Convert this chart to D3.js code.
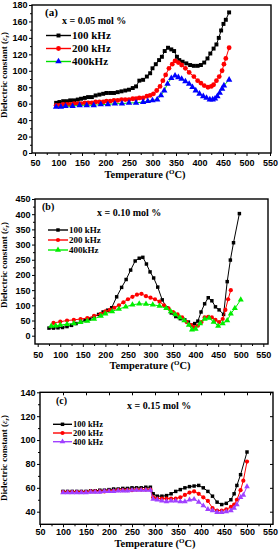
<!DOCTYPE html>
<html lang="en">
<head>
<meta charset="UTF-8">
<title>Dielectric constant vs temperature</title>
<script src="https://d3js.org/d3.v7.min.js"></script>
<style>
  body { margin: 0; background: #fff; }
  .tick text { font-family: "Liberation Sans", Arial, sans-serif; font-weight: bold; font-size: 9px; fill: #000; }
  .tick line { stroke: #000; stroke-width: 1px; }
  .lbl { font-family: "Liberation Serif", "Times New Roman", serif; font-weight: bold; fill: #000; }
  .frame { fill: none; stroke: #000; stroke-width: 1.4px; }
</style>
</head>
<body>
<svg id="chart" width="279" height="550"></svg>
<script>
// ---- data ----
const xTicks = [50, 100, 150, 200, 250, 300, 350, 400, 450, 500, 550];
const yTicksA = [0, 20, 40, 60, 80, 100, 120, 140, 160, 180];
const yTicksB = [0, 50, 100, 150, 200, 250, 300, 350, 400, 450];
const yTicksC = [40, 60, 80, 100, 120, 140];

// (a) x = 0.05 mol %
const tempA100 = [95,102,110,118,125,133,141,148,156,163,171,179,187,195,202,210,218,226,234,242,250,258,265,272,280,288,295,300,307,314,320,326,333,340,346,352,357,364,372,380,388,396,403,410,417,423,430,436,441,446,451,456,463];
const epsA100  = [61,62,63,63,64,64,65,66,67,68,68,70,71,72,73,73,73,74,75,76,77,79,81,88,89,93,97,103,108,113,117,124,128,126,124,117,113,111,109,107,106,106,107,110,115,121,127,132,140,149,157,162,171];
const tempA200 = [95,102,110,118,125,133,141,148,156,163,171,179,187,195,202,210,218,226,234,242,250,258,265,272,280,288,295,302,309,316,322,328,335,342,348,355,362,370,378,388,396,403,410,418,425,430,436,442,448,452,456,463];
const epsA200  = [58,58,59,59,59,60,60,60,61,61,61,62,62,62,63,63,64,64,65,65,65,66,66,67,67,69,70,72,76,81,88,95,103,108,112,110,107,103,98,93,88,85,82,80,81,83,88,93,100,108,115,128];
const tempA400 = [95,105,115,130,145,160,175,190,205,220,235,250,265,280,290,300,310,318,325,332,340,348,355,362,370,378,385,392,400,408,415,422,428,433,438,443,448,452,463];
const epsA400  = [56,56,57,57,58,58,58,59,59,60,60,61,61,62,63,64,65,70,76,84,91,94,92,90,87,84,80,76,72,69,67,65,65,66,69,73,78,82,89];

// (b) x = 0.10 mol %
const tempB100 = [75,85,95,105,115,125,135,145,155,165,175,185,195,205,214,225,236,246,256,266,275,283,291,299,307,316,326,336,346,356,366,376,384,391,398,405,412,420,428,436,444,452,462,470,477,484,497];
const epsB100  = [25,25,26,27,30,34,40,45,50,55,63,70,78,84,92,128,159,185,216,246,255,258,236,210,190,160,118,92,75,63,56,52,45,35,40,48,78,105,125,115,95,85,70,178,249,306,402];
const tempB200 = [85,100,115,130,145,160,175,190,200,210,220,230,240,250,260,270,280,290,300,310,320,330,340,350,360,370,380,390,397,405,413,420,428,436,444,452,460,466,472,478];
const epsB200  = [42,46,50,52,55,58,65,72,80,85,92,100,110,120,128,135,138,130,125,120,112,100,90,78,70,60,45,35,28,33,45,60,62,60,52,45,55,85,120,150];
const tempB400 = [80,90,100,115,130,145,160,175,190,200,215,230,245,260,275,290,305,320,335,345,355,365,375,385,392,400,410,420,430,440,450,460,470,478,487,500];
const epsB400  = [32,33,35,38,40,44,48,55,65,72,80,88,95,102,105,104,102,98,90,80,70,60,50,35,20,22,40,55,58,45,32,40,50,72,90,118];

// (c) x = 0.15 mol %
const tempC100 = [100,110,120,130,140,150,160,170,180,190,200,210,220,230,240,250,260,270,280,290,296,305,315,325,335,345,355,365,375,385,395,405,415,425,435,445,455,465,472,478,486,500];
const epsC100  = [57,57,57,57,57,57,57.5,57.5,58,58,58.5,59,59,59.5,59.5,60,60,60,60.5,60.5,55,53,53,53.5,55,57,58.5,60,61,61.5,62,60,57,53,48,46,47,50,55,62,71,90];
const tempC200 = [100,110,120,130,140,150,160,170,180,190,200,210,220,230,240,250,260,270,280,290,296,305,315,325,335,345,355,365,375,385,395,405,415,425,435,445,455,465,472,478,486,492,500];
const epsC200  = [56.5,56.5,56.5,56.5,56.5,56.5,57,57,57,57,57.5,57.5,58,58,58,58,58.5,58.5,58.5,58.5,52,51,51,51,51,51,52,54,56,57,55,52,49,43,41,41,42,44,46,50,58,66,82];
const tempC400 = tempC200;
const epsC400  = [56,56,56,56,56,56,56.5,56.5,56.5,57,57,57,57.5,57.5,57.5,58,58,58,58,58,50.5,50,49,48.5,49,49,48.5,48.5,50,50.5,48,45,42,41,39.5,39.5,40,41,43,46,52,54,61];

const svg = d3.select("#chart");

function zip(t, v) { return t.map((d, i) => [d, v[i]]); }

function drawPanel(p) {
  const g = svg.append("g");
  const x = d3.scaleLinear().domain([50, 550]).range(p.xRange);
  const y = d3.scaleLinear().domain(p.yDomain).range(p.yRange);
  const [bx0, by0, bx1, by1] = p.box;

  // axes (major outward, minor half-length)
  const minorX = xTicks.slice(0, -1).map(d => d + 25);
  g.append("g").attr("transform", `translate(0,${by1})`)
    .call(d3.axisBottom(x).tickValues(xTicks).tickSize(3).tickSizeOuter(0).tickPadding(p.xPad))
    .call(a => a.select(".domain").remove());
  g.append("g").attr("transform", `translate(0,${by1})`)
    .call(d3.axisBottom(x).tickValues(minorX).tickSize(2).tickFormat(""))
    .call(a => a.select(".domain").remove());

  const yStep = p.yTicks[1] - p.yTicks[0];
  const minorY = p.yTicks.slice(0, -1).map(d => d + yStep / 2);
  g.append("g").attr("transform", `translate(${bx0},0)`)
    .call(d3.axisLeft(y).tickValues(p.yTicks).tickSize(3).tickSizeOuter(0).tickPadding(1.5))
    .call(a => a.select(".domain").remove());
  g.append("g").attr("transform", `translate(${bx0},0)`)
    .call(d3.axisLeft(y).tickValues(minorY).tickSize(2).tickFormat(""))
    .call(a => a.select(".domain").remove());

  if (p.mirror) {
    g.append("g").attr("transform", `translate(0,${by0})`)
      .call(d3.axisBottom(x).tickValues(xTicks.slice(1)).tickSize(3).tickFormat(""))
      .call(a => a.select(".domain").remove());
    g.append("g").attr("transform", `translate(${bx1},0)`)
      .call(d3.axisLeft(y).tickValues(p.yTicks).tickSize(3).tickFormat(""))
      .call(a => a.select(".domain").remove());
  }

  g.append("rect").attr("class", "frame")
    .attr("x", bx0).attr("y", by0)
    .attr("width", bx1 - bx0).attr("height", by1 - by0);

  const line = d3.line().x(d => x(d[0])).y(d => y(d[1]));

  p.series.forEach(s => {
    const pts = zip(s.t, s.v);
    g.append("path").datum(pts)
      .attr("fill", "none").attr("stroke", s.line).attr("stroke-width", 1)
      .attr("d", line);
    g.selectAll(null).data(pts).join("path")
      .attr("transform", d => `translate(${x(d[0])},${y(d[1])})`)
      .attr("d", d3.symbol(s.shape, s.size * p.mk)())
      .attr("fill", s.fill);
  });

  // panel letter and composition
  g.append("text").attr("class", "lbl").attr("x", p.letter[0]).attr("y", p.letter[1])
    .attr("font-size", p.letter[2]).text(p.letterText);
  g.append("text").attr("class", "lbl").attr("x", p.comp[0]).attr("y", p.comp[1])
    .attr("font-size", 10).text(p.compText);

  // legend
  p.series.forEach((s, i) => {
    const ly = p.leg.y0 + i * p.leg.dy;
    g.append("line").attr("x1", p.leg.x0).attr("x2", p.leg.x1)
      .attr("y1", ly).attr("y2", ly)
      .attr("stroke", s.line).attr("stroke-width", 1.4);
    g.append("path")
      .attr("transform", `translate(${(p.leg.x0 + p.leg.x1) / 2},${ly})`)
      .attr("d", d3.symbol(s.shape, s.size * p.mk)())
      .attr("fill", s.fill);
    g.append("text").attr("class", "lbl")
      .attr("x", p.leg.x1 + 1).attr("y", ly)
      .attr("dy", "0.35em").attr("font-size", p.leg.fs)
      .text(s.name);
  });

  // axis titles
  const xt = g.append("text").attr("class", "lbl")
    .attr("x", p.xTitle[0]).attr("y", p.xTitle[1])
    .attr("text-anchor", "middle").attr("font-size", 10.5);
  xt.append("tspan").text("Temperature (");
  xt.append("tspan").attr("font-size", 7).attr("dy", -4).text("O");
  xt.append("tspan").attr("dy", 4).text("C)");

  const yt = g.append("text").attr("class", "lbl")
    .attr("transform", `translate(${p.yTitle[0]},${p.yTitle[1]}) rotate(-90)`)
    .attr("text-anchor", "middle").attr("font-size", 9);
  yt.append("tspan").text("Dielectric constant (");
  yt.append("tspan").attr("font-style", "italic").attr("font-weight", "normal").text("\u03b5");
  yt.append("tspan").attr("font-size", 6).attr("dy", 2).attr("font-style", "italic").text("r");
  yt.append("tspan").attr("dy", -2).text(")");
}

const sq = d3.symbolSquare, ci = d3.symbolCircle, tr = d3.symbolTriangle;

drawPanel({
  box: [32, 5, 271, 153], xRange: [35, 270], yDomain: [0, 180], yRange: [153, 5],
  yTicks: yTicksA, xPad: 3.5, mk: 1.3,
  letter: [45, 16, 11], letterText: "(a)",
  comp: [62, 24], compText: "x = 0.05 mol %",
  leg: { x0: 46, x1: 71, y0: 35.5, dy: 13, fs: 11 },
  xTitle: [145, 178], yTitle: [7, 75],
  series: [
    { name: "100 kHz", t: tempA100, v: epsA100, line: "#000", fill: "#000", shape: sq, size: 12 },
    { name: "200 kHz", t: tempA200, v: epsA200, line: "#ff0000", fill: "#ff0000", shape: ci, size: 14 },
    { name: "400kHz", t: tempA400, v: epsA400, line: "#00e000", fill: "#0000ff", shape: tr, size: 14 }
  ]
});

drawPanel({
  box: [35, 199, 268, 344], xRange: [37.7, 263.3], yDomain: [0, 450], yRange: [335.7, 199],
  yTicks: yTicksB, xPad: 5, mk: 1,
  letter: [42, 210, 10], letterText: "(b)",
  comp: [97, 216], compText: "x = 0.10 mol %",
  leg: { x0: 48, x1: 68, y0: 230, dy: 10, fs: 9 },
  xTitle: [150, 369], yTitle: [7, 265],
  series: [
    { name: "100 kHz", t: tempB100, v: epsB100, line: "#000", fill: "#000", shape: sq, size: 12 },
    { name: "200 kHz", t: tempB200, v: epsB200, line: "#ff0000", fill: "#ff0000", shape: ci, size: 14 },
    { name: "400kHz", t: tempB400, v: epsB400, line: "#00ee00", fill: "#00ee00", shape: tr, size: 16 }
  ]
});

drawPanel({
  box: [40, 392.3, 273, 524.3], xRange: [40, 270], yDomain: [40, 140], yRange: [511.7, 392.3],
  yTicks: yTicksC, xPad: 1.5, mk: 1, mirror: true,
  letter: [56, 403.5, 10], letterText: "(c)",
  comp: [127, 409], compText: "x = 0.15 mol %",
  leg: { x0: 53, x1: 72, y0: 424.3, dy: 8.7, fs: 8.5 },
  xTitle: [155, 547], yTitle: [7, 458],
  series: [
    { name: "100 kHz", t: tempC100, v: epsC100, line: "#000", fill: "#000", shape: sq, size: 12 },
    { name: "200 kHz", t: tempC200, v: epsC200, line: "#ff0000", fill: "#ff0000", shape: ci, size: 14 },
    { name: "400 kHz", t: tempC400, v: epsC400, line: "#a040ff", fill: "#a040ff", shape: tr, size: 14 }
  ]
});
</script>
</body>
</html>
